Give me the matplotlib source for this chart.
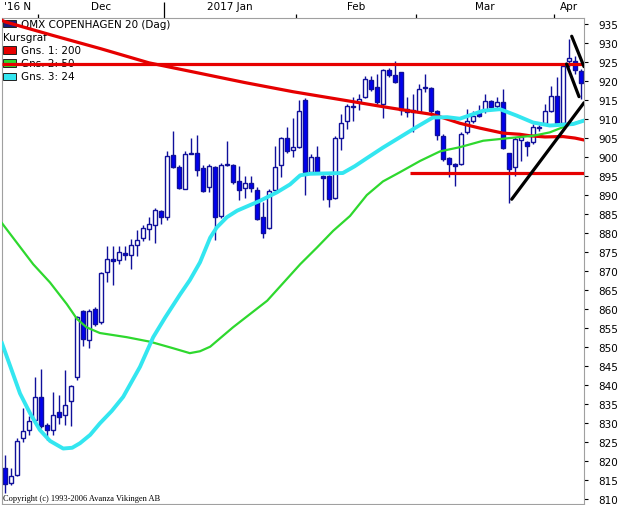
import matplotlib
matplotlib.use('Agg')
import matplotlib.pyplot as plt
from matplotlib.patches import Rectangle
import numpy as np

# daily candles, OMX Copenhagen 20, late Nov 2016 -> early Apr 2017
opens = [818.3, 814.3, 816.4, 826.2, 828.2, 830.8, 836.8, 829.5, 828.3, 832.8,
         832.2, 835.9, 842.0, 859.4, 851.8, 860.1, 856.7, 869.7, 873.1, 873.0,
         874.8, 874.3, 876.9, 878.7, 881.2, 882.2, 885.9, 884.3, 900.6, 897.3,
         891.7, 900.9, 901.2, 897.1, 892.2, 897.3, 884.4, 897.8, 898.0, 893.8,
         891.8, 893.3, 891.4, 884.1, 881.3, 891.4, 898.0, 905.0, 901.9, 902.7,
         915.0, 896.2, 900.1, 894.9, 895.0, 889.2, 905.0, 909.4, 913.1, 914.4,
         915.9, 920.4, 918.5, 913.9, 922.9, 921.7, 922.3, 912.6, 911.8, 911.8,
         918.1, 918.3, 912.2, 905.6, 899.7, 898.3, 898.2, 906.5, 909.4, 911.5,
         912.5, 914.8, 913.5, 914.6, 901.0, 897.3, 904.5, 903.9, 903.9, 907.6,
         908.9, 912.2, 916.0, 908.9, 925.4, 925.4, 922.6]
highs = [821.6, 818.1, 826.0, 833.9, 831.8, 842.2, 844.1, 829.9, 838.3, 837.4,
         844.0, 840.0, 858.3, 859.7, 860.0, 860.6, 869.8, 876.5, 876.5, 876.5,
         876.5, 878.4, 880.8, 882.2, 884.1, 886.6, 886.0, 901.5, 906.9, 898.0,
         901.5, 905.0, 905.9, 898.0, 898.2, 897.7, 898.5, 904.3, 898.3, 897.7,
         895.1, 895.1, 892.0, 888.3, 891.5, 903.0, 905.4, 908.0, 910.4, 915.0,
         915.5, 900.8, 903.0, 895.2, 895.2, 905.6, 911.3, 914.0, 915.7, 916.6,
         921.4, 921.4, 921.8, 923.2, 923.4, 925.4, 922.5, 915.9, 916.6, 919.2,
         921.8, 918.5, 912.5, 906.0, 900.0, 898.5, 906.5, 912.6, 912.0, 913.8,
         916.6, 915.0, 915.7, 917.9, 901.2, 905.2, 905.5, 904.3, 908.7, 908.5,
         914.0, 918.8, 921.2, 924.5, 931.0, 926.7, 923.2]
lows = [811.5, 813.7, 816.0, 825.1, 826.8, 829.9, 828.6, 825.5, 826.8, 829.7,
        829.5, 829.1, 841.3, 850.3, 849.7, 855.5, 856.2, 867.0, 866.4, 871.8,
        873.0, 870.5, 874.0, 878.0, 878.2, 877.3, 882.4, 883.4, 897.0, 891.6,
        891.5, 900.8, 894.9, 890.7, 890.7, 878.2, 884.0, 897.7, 893.0, 888.8,
        889.2, 890.7, 883.5, 878.7, 881.0, 891.2, 894.8, 901.2, 899.9, 902.3,
        890.1, 895.5, 895.8, 888.8, 886.8, 889.0, 901.8, 907.4, 909.6, 912.4,
        915.5, 917.5, 914.0, 910.4, 921.0, 919.5, 911.0, 910.5, 906.5, 911.5,
        917.0, 911.5, 904.5, 899.0, 894.8, 892.5, 897.8, 906.0, 909.0, 910.5,
        911.5, 912.8, 912.6, 902.0, 888.0, 895.1, 899.0, 900.4, 903.5, 906.8,
        908.5, 911.8, 908.5, 908.5, 923.6, 921.8, 915.3]
closes = [813.9, 816.1, 825.4, 828.0, 830.6, 836.8, 829.2, 828.3, 832.2, 831.7,
          834.8, 839.7, 858.0, 852.0, 859.6, 856.2, 869.6, 873.3, 872.6, 874.9,
          874.2, 876.9, 878.3, 881.4, 882.4, 886.0, 884.3, 900.4, 897.3, 891.8,
          900.9, 901.2, 896.6, 891.2, 897.7, 884.1, 898.0, 898.0, 893.5, 891.4,
          893.3, 891.8, 883.7, 880.0, 891.2, 897.5, 905.0, 901.5, 902.6, 912.2,
          896.0, 900.1, 896.2, 894.5, 889.0, 905.0, 908.9, 913.5, 913.5, 915.4,
          920.5, 917.9, 914.4, 922.9, 921.7, 919.8, 912.4, 911.8, 912.3, 917.9,
          918.5, 912.2, 905.9, 899.5, 898.2, 897.7, 906.0, 909.6, 910.9, 910.9,
          914.8, 913.3, 914.4, 902.5, 896.8, 904.7, 905.2, 903.0, 907.8, 908.0,
          912.2, 916.0, 908.9, 924.0, 926.0, 923.0, 919.4]

# moving averages (candle index, value)
ma200_x = [-0.5, 0, 8, 16, 24, 32, 40, 48, 56, 64, 68, 71.3, 73.7, 75.8, 79.2,
           83, 85.8, 87.5, 90, 93, 95, 96.5]
ma200_y = [936.0, 935.6, 932.0, 928.5, 924.8, 922.2, 919.6, 917.2, 915.1, 913.0,
           912.0, 911.2, 910.0, 908.9, 907.6, 906.3, 906.0, 905.6, 905.3, 905.4,
           905.0, 904.5]
ma50_x = [-0.5, 4.7, 7.5, 10.3, 12.0, 13.6, 15.8, 20.3, 24.2, 28.0, 30.8, 32.5,
          34.2, 38.0, 43.7, 49.2, 52.0, 54.7, 57.5, 60.3, 63.0, 65.8, 69.2, 72.5,
          75.8, 79.7, 85.3, 88.0, 90.8, 93.7, 96.5]
ma50_y = [882.6, 871.8, 867.0, 861.3, 857.4, 855.2, 853.7, 852.6, 851.4, 849.7,
          848.4, 848.9, 850.1, 855.2, 862.2, 871.8, 876.2, 880.6, 884.5, 890.0,
          893.6, 896.0, 899.0, 901.5, 902.6, 904.3, 905.2, 905.6, 906.5, 908.3,
          909.7]
ma24_x = [-0.5, 2.5, 4.2, 5.8, 7.5, 9.7, 11.2, 12.5, 14.2, 15.8, 17.8, 19.7,
          22.5, 24.7, 26.7, 29.2, 30.8, 32.5, 34.2, 35.3, 37.0, 38.7, 42.5, 45.3,
          47.5, 49.2, 50.8, 56.3, 58.3, 60.3, 63.0, 65.8, 68.7, 71.3, 73.7, 75.8,
          79.7, 82.5, 85.3, 88.0, 90.8, 94.7, 96.5]
ma24_y = [851.0, 837.8, 832.5, 828.2, 825.3, 823.3, 823.5, 824.7, 826.9, 829.9,
          833.2, 836.9, 844.8, 852.6, 857.8, 863.9, 867.6, 872.3, 878.8, 881.5,
          884.2, 885.9, 888.5, 890.7, 892.8, 895.2, 895.6, 895.8, 897.6, 899.7,
          902.5, 905.2, 908.0, 910.4, 910.5, 910.1, 912.2, 912.6, 910.9, 909.1,
          908.3, 908.7, 909.6]

# hand drawn lines on the chart
resist_level = 924.4
support_level = 895.9
support_start = 67.5
trend_x = [84.45, 96.5]
trend_y = [888.9, 914.3]
chan_a_x = [94.45, 96.5]
chan_a_y = [931.8, 923.8]
chan_b_x = [93.6, 95.67]
chan_b_y = [924.5, 915.9]

month_edges = [5.5, 26.5, 48.5, 68.5, 91.5]
year_edge = 26.5
month_names = ["Dec", "2017 Jan", "Feb", "Mar", "Apr"]

legend_names = ["OMX COPENHAGEN 20 (Dag)", "Kursgraf", "Gns. 1: 200", "Gns. 2: 50", "Gns. 3: 24"]
legend_cols = ["#1c1c7a", None, "#e60000", "#2ed82e", "#33e6f0"]

EDGE = "#10109a"
FILL = "#0000f0"
RED = "#e60000"

XMIN, XMAX = -0.5, 96.5
YMIN, YMAX = 808.7, 936.6

fig = plt.figure(figsize=(6.2, 5.06), dpi=100)
ax = fig.add_axes([2 / 620, 1 / 506, 582 / 620, 486 / 506])

x = np.arange(len(opens))
o = np.array(opens)
c = np.array(closes)
up = c >= o
ax.vlines(x, lows, highs, color=EDGE, lw=1, zorder=2)
ax.bar(x[up], np.maximum((c - o)[up], 0.25), bottom=o[up], width=0.72,
       facecolor="white", edgecolor=EDGE, lw=1, zorder=2.5)
ax.bar(x[~up], (o - c)[~up], bottom=c[~up], width=0.72,
       facecolor=FILL, edgecolor=EDGE, lw=1, zorder=2.5)

ax.plot(ma200_x, ma200_y, color=RED, lw=2.3, zorder=3, solid_joinstyle="round")
ax.plot(ma50_x, ma50_y, color="#2ed82e", lw=1.6, zorder=3, solid_joinstyle="round")
ax.plot(ma24_x, ma24_y, color="#33e6f0", lw=2.8, zorder=3, solid_joinstyle="round")

ax.hlines(resist_level, XMIN, XMAX, color=RED, lw=2.3, zorder=4)
ax.hlines(support_level, support_start, XMAX, color=RED, lw=2.3, zorder=4)
for lx, ly in [(trend_x, trend_y), (chan_a_x, chan_a_y), (chan_b_x, chan_b_y)]:
    ax.plot(lx, ly, color="black", lw=2.3, solid_capstyle="round", zorder=5)

ax.set_xlim(XMIN, XMAX)
ax.set_ylim(YMIN, YMAX)

# axes look
for s in ax.spines.values():
    s.set_color("#a0a0a0")
    s.set_linewidth(0.8)
ax.yaxis.tick_right()
ax.set_yticks(np.arange(810, 936, 5))
ax.tick_params(axis="y", direction="out", length=3, width=0.8, pad=7,
               labelsize=7.5, colors="black")
ax.xaxis.tick_top()
ax.set_xticks([year_edge])
ax.set_xticks([e for e in month_edges if e != year_edge], minor=True)
ax.tick_params(axis="x", which="major", direction="out", length=11.5, width=0.9,
               labeltop=False, color="black")
ax.tick_params(axis="x", which="minor", direction="out", length=3, width=0.9,
               labeltop=False, color="black")

trans = ax.get_xaxis_transform()
centers = [(a + b) / 2 for a, b in zip(month_edges, month_edges[1:] + [XMAX])]
for name, cx in zip(month_names, centers):
    ax.text(cx, 1.024, name, transform=trans, ha="center", va="center", fontsize=7.5)
ax.text(0.004, 1.024, "'16 N", transform=ax.transAxes, ha="left", va="center", fontsize=7.5)

# legend box in the upper left
row_h = 13.2 / 486
top_row = 1 - 5.5 / 486
for i, (name, col) in enumerate(zip(legend_names, legend_cols)):
    yy = top_row - i * row_h
    if col is None:
        ax.text(0.002, yy, name, transform=ax.transAxes, ha="left", va="center",
                fontsize=7.5, zorder=1.5)
        continue
    ax.add_patch(Rectangle((0.002, yy - 3.8 / 486), 13 / 582, 7.6 / 486,
                           transform=ax.transAxes, facecolor=col, edgecolor="#202020",
                           lw=0.7, zorder=1.5))
    ax.text(0.032, yy, name, transform=ax.transAxes, ha="left", va="center",
            fontsize=7.5, zorder=1.5)

ax.text(0.002, 0.012, "Copyright (c) 1993-2006 Avanza Vikingen AB", transform=ax.transAxes,
        ha="left", va="center", fontsize=6, family="Liberation Serif", zorder=6)

fig.savefig("out.png", dpi=100)
